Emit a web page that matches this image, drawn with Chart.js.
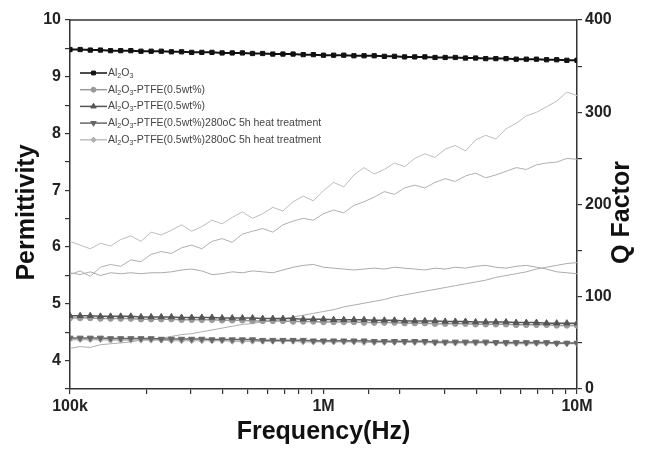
<!DOCTYPE html>
<html>
<head>
<meta charset="utf-8">
<script src="https://cdn.jsdelivr.net/npm/chart.js@4.4.1/dist/chart.umd.min.js"></script>
<style>
  html, body { margin: 0; padding: 0; background: #fff; }
  #wrap { width: 651px; height: 450px; position: relative; }
</style>
</head>
<body>
<div id="wrap"><canvas id="c" width="651" height="450"></canvas></div>
<script>
// ---- data ----
const freqs = [100000,109648,120226,131826,144544,158489,173780,190546,208930,229087,
  251189,275423,301995,331131,363078,398107,436516,478630,524807,575440,
  630957,691831,758578,831764,912011,1000000,1096478,1202264,1318257,1445440,
  1584893,1737801,1905461,2089296,2290868,2511886,2754229,3019952,3311311,3630781,
  3981072,4365158,4786301,5248075,5754399,6309573,6918310,7585776,8317638,9120108,10000000];

const seriesNames = [
  "Al2O3",
  "Al2O3-PTFE(0.5wt%)",
  "Al2O3-PTFE(0.5wt%)",
  "Al2O3-PTFE(0.5wt%)280oC 5h heat treatment",
  "Al2O3-PTFE(0.5wt%)280oC 5h heat treatment"
];

// permittivity (left axis)
const epsAl2O3 = [9.48,9.48,9.47,9.47,9.46,9.46,9.46,9.45,9.45,9.45,9.44,9.44,9.43,9.43,9.43,9.42,9.42,9.42,9.41,9.41,
  9.40,9.40,9.40,9.39,9.39,9.38,9.38,9.38,9.37,9.37,9.37,9.36,9.36,9.35,9.35,9.35,9.34,9.34,9.34,9.33,
  9.33,9.32,9.32,9.32,9.31,9.31,9.31,9.30,9.30,9.29,9.29];
const epsPTFE = [4.75,4.75,4.75,4.74,4.74,4.74,4.74,4.73,4.73,4.73,4.73,4.72,4.72,4.72,4.72,4.71,4.71,4.71,4.70,4.70,
  4.70,4.70,4.69,4.69,4.69,4.68,4.68,4.68,4.68,4.67,4.67,4.67,4.67,4.66,4.66,4.66,4.65,4.65,4.65,4.65,
  4.64,4.64,4.64,4.64,4.63,4.63,4.63,4.63,4.62,4.62,4.62];
const epsPTFE2 = [4.79,4.79,4.79,4.78,4.78,4.78,4.78,4.77,4.77,4.77,4.77,4.76,4.76,4.76,4.76,4.75,4.75,4.75,4.75,4.74,
  4.74,4.74,4.74,4.73,4.73,4.73,4.72,4.72,4.72,4.72,4.71,4.71,4.71,4.70,4.70,4.70,4.70,4.69,4.69,4.69,
  4.68,4.68,4.68,4.68,4.67,4.67,4.67,4.66,4.66,4.66,4.66];
const epsHeat = [4.40,4.40,4.40,4.40,4.39,4.39,4.39,4.39,4.39,4.38,4.38,4.38,4.38,4.38,4.37,4.37,4.37,4.37,4.37,4.36,
  4.36,4.36,4.36,4.36,4.35,4.35,4.35,4.35,4.35,4.35,4.34,4.34,4.34,4.34,4.34,4.34,4.33,4.33,4.33,4.33,
  4.33,4.33,4.32,4.32,4.32,4.32,4.32,4.32,4.31,4.31,4.31];
const epsHeat2 = [4.37,4.37,4.37,4.37,4.36,4.36,4.36,4.36,4.36,4.36,4.35,4.35,4.35,4.35,4.35,4.35,4.34,4.34,4.34,4.34,
  4.34,4.34,4.34,4.33,4.33,4.33,4.33,4.33,4.33,4.32,4.32,4.32,4.32,4.32,4.32,4.32,4.31,4.31,4.31,4.31,
  4.31,4.31,4.31,4.30,4.30,4.30,4.30,4.30,4.30,4.30,4.30];

// Q factor (right axis)
const qA = [160,156,152,158,155,162,166,160,170,167,172,178,171,176,183,179,186,192,185,190,
  197,193,203,209,204,215,224,219,232,240,233,238,245,241,250,255,251,260,264,258,
  270,275,271,282,288,296,300,306,312,322,318];
const qB = [124,128,122,132,135,133,140,138,146,149,147,153,156,152,160,163,159,168,171,174,
  170,178,182,185,183,190,194,191,199,203,208,214,211,218,221,218,224,228,225,231,
  234,229,232,236,240,238,243,245,246,250,249];
const qC = [126,124,127,123,126,125,126,125,126,126,127,129,130,128,124,125,127,126,128,127,
  126,129,132,134,135,132,131,130,129,130,131,130,132,131,130,129,131,130,132,131,
  133,134,132,131,133,134,132,130,127,126,125];
const qD = [44,46,45,48,49,50,51,53,54,55,57,59,60,62,64,66,68,70,71,73,
  74,76,78,80,82,84,86,89,91,93,95,97,100,102,104,106,108,110,112,114,
  116,118,121,123,125,127,130,132,134,136,137];

const xTickLabels = { 5: "100k", 6: "1M", 7: "10M" };
const yLeftLabels = [4, 5, 6, 7, 8, 9, 10];
const yRightLabels = [0, 100, 200, 300, 400];

// ---- build datasets ----
const pts = arr => freqs.map((f, i) => ({ x: f, y: arr[i] }));

const epsStyles = [
  { data: epsAl2O3, color: '#111', style: 'rect', rot: 0, r: 3, w: 2 },
  { data: epsPTFE,  color: '#9a9a9a', style: 'circle', rot: 0, r: 2.8, w: 1.5 },
  { data: epsPTFE2, color: '#555', style: 'triangle', rot: 0, r: 3.5, w: 1.5 },
  { data: epsHeat,  color: '#666', style: 'triangle', rot: 180, r: 3.5, w: 1.5 },
  { data: epsHeat2, color: '#b0b0b0', style: 'rectRot', rot: 0, r: 3, w: 1.2 }
];

const datasets = [];
// drawing: lower index drawn on top
const drawOrder = [0, 2, 3, 1, 4];
drawOrder.forEach(k => {
  const s = epsStyles[k];
  datasets.push({
    label: seriesNames[k],
    legendIndex: k,
    data: pts(s.data),
    yAxisID: 'y',
    borderColor: s.color,
    backgroundColor: s.color,
    pointBackgroundColor: s.color,
    pointBorderColor: s.color,
    borderWidth: s.w,
    pointStyle: s.style,
    pointRotation: s.rot,
    pointRadius: s.r,
    pointBorderWidth: 1,
    tension: 0
  });
});
[[qA, '#bdbdbd'], [qB, '#b0b0b0'], [qC, '#ababab'], [qD, '#adadad']].forEach(([arr, col]) => {
  datasets.push({
    label: '',
    data: pts(arr),
    yAxisID: 'y2',
    borderColor: col,
    borderWidth: 1,
    pointRadius: 0,
    tension: 0
  });
});

// ---- custom legend, frame and titles ----
function drawLabel(ctx, text, x, y) {
  // render "Al2O3" with subscripts
  const parts = [];
  const m = text.match(/^Al2O3(.*)$/);
  if (m) {
    parts.push(['Al', 0], ['2', 1], ['O', 0], ['3', 1], [m[1], 0]);
  } else parts.push([text, 0]);
  let cx = x;
  parts.forEach(([t, sub]) => {
    if (!t) return;
    ctx.font = sub ? '7px Arial' : '10.5px Arial';
    ctx.fillText(t, cx, sub ? y + 3 : y);
    cx += ctx.measureText(t).width;
  });
}

const framePlugin = {
  id: 'frameLegend',
  afterDraw(chart) {
    const ctx = chart.ctx;
    const ca = chart.chartArea;
    ctx.save();
    // top frame line
    ctx.strokeStyle = '#333';
    ctx.lineWidth = 1.5;
    ctx.beginPath();
    ctx.moveTo(ca.left, ca.top);
    ctx.lineTo(ca.right, ca.top);
    ctx.stroke();

    // legend
    const x0 = ca.left + 10, y0 = ca.top + 53, dy = 16.7;
    for (let k = 0; k < 5; k++) {
      const ds = chart.data.datasets.find(d => d.legendIndex === k);
      const y = y0 + k * dy;
      ctx.strokeStyle = ds.borderColor;
      ctx.lineWidth = Math.min(ds.borderWidth, 1.5);
      ctx.beginPath();
      ctx.moveTo(x0, y);
      ctx.lineTo(x0 + 27, y);
      ctx.stroke();
      ctx.fillStyle = ds.pointBackgroundColor;
      ctx.strokeStyle = ds.pointBorderColor;
      ctx.lineWidth = 1;
      Chart.helpers.drawPoint(ctx, {
        pointStyle: ds.pointStyle, rotation: ds.pointRotation, radius: ds.pointRadius * 0.9, borderWidth: 1
      }, x0 + 13.5, y);
      ctx.fillStyle = '#444';
      ctx.textBaseline = 'middle';
      ctx.textAlign = 'left';
      drawLabel(ctx, ds.label, x0 + 28, y);
    }

    // axis titles
    ctx.fillStyle = '#111';
    ctx.font = 'bold 25px Arial';
    ctx.textAlign = 'center';
    ctx.textBaseline = 'middle';
    const cy = (ca.top + ca.bottom) / 2 + 8;
    ctx.save();
    ctx.translate(27, cy);
    ctx.rotate(-Math.PI / 2);
    ctx.fillText('Permittivity', 0, 0);
    ctx.restore();
    ctx.save();
    ctx.translate(622, cy);
    ctx.rotate(-Math.PI / 2);
    ctx.fillText('Q Factor', 0, 0);
    ctx.restore();
    ctx.fillText('Frequency(Hz)', (ca.left + ca.right) / 2, 432);
    ctx.restore();
  }
};

const tickFont = { family: 'Arial', size: 16, weight: 'bold' };
const axisGrid = { display: true, drawOnChartArea: false, drawTicks: true, tickLength: 5, color: '#333', lineWidth: 1.2 };
const axisBorder = { display: true, color: '#333', width: 1.5 };

new Chart(document.getElementById('c'), {
  type: 'line',
  data: { datasets },
  options: {
    responsive: false,
    animation: false,
    events: [],
    layout: { padding: { top: 20 } },
    plugins: { legend: { display: false }, tooltip: { enabled: false }, title: { display: false } },
    scales: {
      x: {
        type: 'logarithmic',
        position: 'bottom',
        min: 100000,
        max: 10000000,
        border: axisBorder,
        grid: axisGrid,
        ticks: {
          color: '#222', font: tickFont, autoSkip: false, maxRotation: 0, padding: 3,
          callback: v => {
            const l = Math.log10(v);
            const r = Math.round(l);
            return Math.abs(l - r) < 1e-6 && xTickLabels[r] ? xTickLabels[r] : '';
          }
        },
        afterFit: s => { s.height = 61; }
      },
      y: {
        type: 'linear',
        position: 'left',
        min: 3.5,
        max: 10,
        border: axisBorder,
        grid: axisGrid,
        ticks: {
          color: '#222', font: tickFont, stepSize: 0.5, padding: 4, autoSkip: false,
          callback: v => yLeftLabels.includes(v) ? String(v) : ''
        },
        afterFit: s => { s.width = 70; }
      },
      y2: {
        type: 'linear',
        position: 'right',
        min: 0,
        max: 400,
        border: axisBorder,
        grid: axisGrid,
        ticks: {
          color: '#222', font: tickFont, stepSize: 50, padding: 3, autoSkip: false,
          callback: v => yRightLabels.includes(v) ? String(v) : ''
        },
        afterFit: s => { s.width = 74; }
      }
    }
  },
  plugins: [framePlugin]
});
</script>
</body>
</html>
